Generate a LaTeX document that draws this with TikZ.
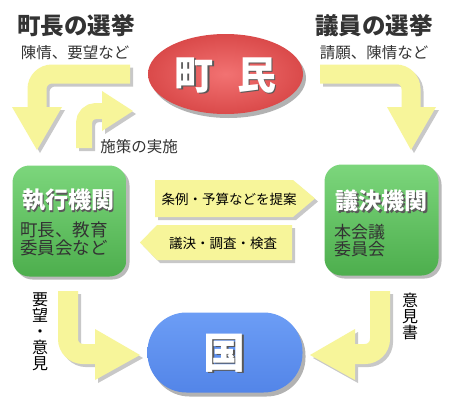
\documentclass[tikz,border=0pt]{standalone}
\usepackage{fontspec}
\setmainfont{Noto Sans CJK JP}
\usetikzlibrary{shapes.geometric,shadows}
\definecolor{arrowy}{HTML}{F7F59A}
\definecolor{shadowc}{HTML}{C8C8C8}
\definecolor{txt}{HTML}{333333}
\definecolor{redin}{HTML}{F27272}
\definecolor{redout}{HTML}{DA4A4A}
\definecolor{grtop}{HTML}{7CD67C}
\definecolor{grbot}{HTML}{4DAE4D}
\definecolor{bltop}{HTML}{6C9DF5}
\definecolor{blbot}{HTML}{5385E8}
\newcommand\shd[2]{\makebox[0pt][l]{\hspace{#2}\raisebox{-#2}{\textcolor{black!65}{#1}}}#1}
\newcommand\allarrows[1]{%
  % top left: 町長の選挙
  \draw[line width=19pt, draw=#1, rounded corners=15pt] (130,74) -- (37,74) -- (37,110);
  \fill[#1] (12,107) -- (62,107) -- (37,150) -- cycle;
  % small: 施策の実施
  \draw[line width=16pt, draw=#1, rounded corners=12pt] (84,148) -- (84,111) -- (105,111);
  \fill[#1] (102,91) -- (133,111) -- (102,131) -- cycle;
  % top right: 議員の選挙
  \draw[line width=19pt, draw=#1, rounded corners=15pt] (320,74) -- (411,74) -- (411,110);
  \fill[#1] (387,107) -- (436,107) -- (411,150) -- cycle;
  % middle
  \fill[#1] (155,180) -- (293,180) -- (315,198.5) -- (293,217) -- (155,217) -- cycle;
  \fill[#1] (140,242.5) -- (157,225) -- (292,225) -- (292,260) -- (157,260) -- cycle;
  % bottom left
  \draw[line width=20pt, draw=#1, rounded corners=15pt] (68,291) -- (68,354) -- (100,354);
  \fill[#1] (95,329) -- (140,355) -- (95,380) -- cycle;
  % bottom right
  \draw[line width=20pt, draw=#1, rounded corners=15pt] (380,291) -- (380,354) -- (350,354);
  \fill[#1] (355,329) -- (310,355) -- (355,380) -- cycle;
}
\begin{document}
\begin{tikzpicture}[x=1pt,y=-1pt,
  sh/.style={drop shadow={opacity=.55, shadow xshift=3pt, shadow yshift=-3pt}},
  box/.style={rounded corners=17pt, top color=grtop, bottom color=grbot, sh, inner sep=0pt,
    minimum width=114pt, minimum height=111pt},
  head/.style={text=txt, font=\bfseries\fontsize{23.5}{23.5}\selectfont, inner sep=0pt},
  sub/.style={text=txt, font=\fontsize{15.5}{15.5}\selectfont, inner sep=0pt},
  wtitle/.style={text=white, font=\bfseries\fontsize{23}{23}\selectfont, inner sep=0pt},
  body/.style={text=txt, font=\fontsize{17.5}{18}\selectfont, inner sep=0pt, align=left},
  lab/.style={text=black, font=\fontsize{13.5}{13.5}\selectfont, inner sep=0pt},
  vlab/.style={text=black, font=\fontsize{16}{16}\selectfont, inner sep=0pt, align=center}]
\useasboundingbox (0,0) rectangle (450,410);
\fill[white] (0,0) rectangle (450,410);

\begin{scope}[shift={(3pt,-3pt)}]
  \allarrows{shadowc}
\end{scope}
\allarrows{arrowy}

% 町民
\node[ellipse, minimum width=155pt, minimum height=80pt, inner color=redin, outer color=redout,
  drop shadow={opacity=.6, shadow xshift=3pt, shadow yshift=-4pt}] (chomin) at (225.5,74) {};
\node[text=white, font=\bfseries\fontsize{39}{39}\selectfont] (chominT) at (225.5,76) {\shd{町}{1.5pt}\hspace{0.6em}\shd{民}{1.5pt}};

% headings
\node[head] (h1) at (76,26) {町長の選挙};
\node[sub] (s1) at (75,53) {陳情、要望など};
\node[head] (h2) at (374,26) {議員の選挙};
\node[sub] (s2) at (374,53) {請願、陳情など};
\node[sub] (s3) at (139,147) {施策の実施};

% 執行機関
\node[box] (exec) at (69.5,221) {};
\node[wtitle] (execT) at (68,201) {\shd{執行機関}{1.5pt}};
\node[body, anchor=west] (execB) at (20,239) {町長、教育\\委員会など};

% 議決機関
\node[box] (giketsu) at (381.5,220) {};
\node[wtitle] (gikT) at (381.5,202) {\shd{議決機関}{1.5pt}};
\node[body, anchor=west, font=\fontsize{17}{17}\selectfont] (gikB) at (334,241) {本会議\\委員会};

% middle labels
\node[lab] (teian) at (229,199) {条例・予算などを提案};
\node[lab] (chosa) at (223,243) {議決・調査・検査};

% 国
\node[rounded corners=39pt, minimum width=155pt, minimum height=80pt, top color=bltop, bottom color=blbot,
  drop shadow={opacity=.6, shadow xshift=3pt, shadow yshift=-4pt}] (kuni) at (225,352.5) {};
\node[text=white, font=\bfseries\fontsize{42}{42}\selectfont] (kuniT) at (224.5,353.5) {\shd{国}{1.5pt}};

% vertical labels
\node[vlab] (yobo) at (40,332) {要\\望\\・\\意\\見};
\node[vlab] (ikensho) at (410,316) {意\\見\\書};
\end{tikzpicture}
\end{document}
